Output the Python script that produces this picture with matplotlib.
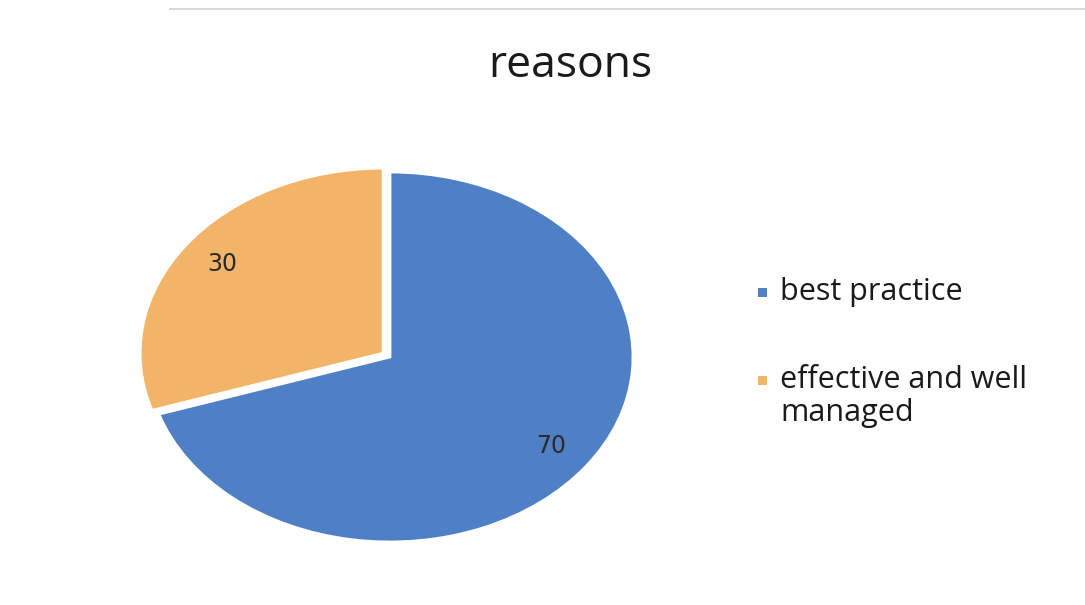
import matplotlib
matplotlib.use("Agg")
import matplotlib.pyplot as plt
from matplotlib.patches import Rectangle

categories = ["best practice", "effective and well\nmanaged"]
values = [70, 30]
colors = ["#4f80c6", "#f2b468"]
title = "reasons"

W, H = 1085, 605
fig = plt.figure(figsize=(W / 100, H / 100), dpi=100)
fig.patch.set_facecolor("white")

# pie axes (stretched ellipse)
cx, cy, rx, ry = 390, 357, 243, 185
ax = fig.add_axes([(cx - rx) / W, (H - cy - ry) / H, 2 * rx / W, 2 * ry / H])
wedges, texts, autotexts = ax.pie(
    values, colors=colors, startangle=90, counterclock=False,
    explode=[0, 0.035], autopct=lambda p: f"{p:.0f}", pctdistance=0.82,
    wedgeprops=dict(edgecolor="white", linewidth=2),
    textprops=dict(fontsize=17, color="#2a2a2a", family="DejaVu Sans"),
)
ax.set_aspect("auto")
ax.set_xlim(-1, 1)
ax.set_ylim(-1, 1)
ax.axis("off")
for w in wedges:
    w.set_clip_on(False)

fig.text(570 / W, 1 - 66 / H, title, ha="center", va="center",
         fontsize=32, family="Open Sans", color="#1a1a1a")

# legend, drawn by hand so the marker sits on the first text line
legend_y = [292, 380]
for lab, col, y in zip(categories, colors, legend_y):
    fig.add_artist(Rectangle(((762 - 4.5) / W, 1 - (y + 4.5) / H), 9 / W, 9 / H,
                             transform=fig.transFigure, facecolor=col,
                             edgecolor="none"))
    fig.text(780 / W, 1 - (y - 15) / H, lab, ha="left", va="top",
             fontsize=22, family="Open Sans", color="#1a1a1a",
             linespacing=1.15)

# faint scan border line at top
fig.add_artist(plt.Line2D([170 / W, 1.0], [1 - 9 / H, 1 - 9 / H],
                          color="#d8d8d8", lw=1.5))

fig.savefig("out.png", dpi=100, facecolor="white")
